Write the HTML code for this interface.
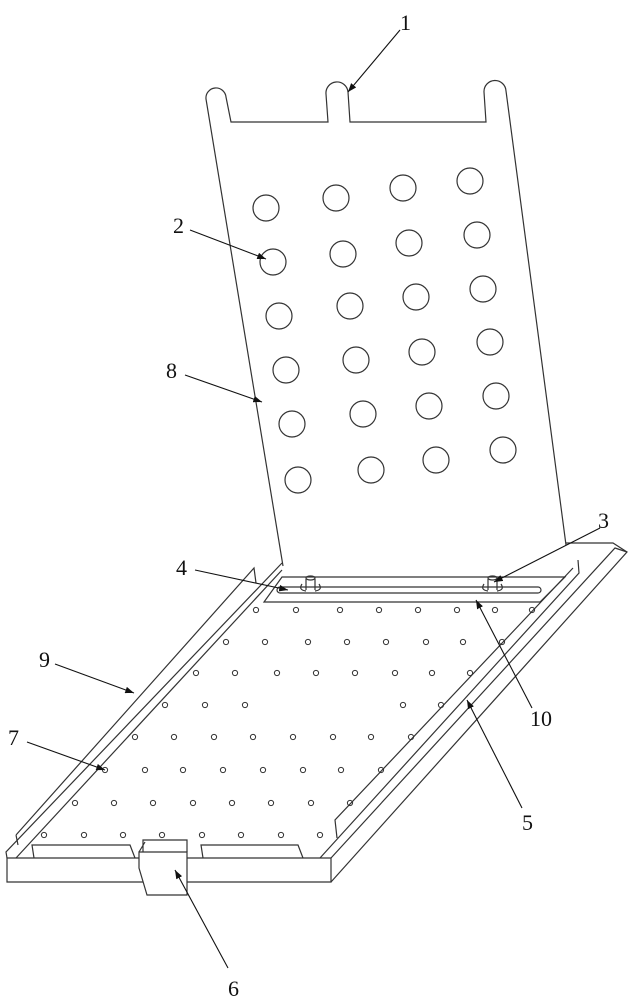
<!DOCTYPE html>
<html><head><meta charset="utf-8"><style>
html,body{margin:0;padding:0;background:#fff}
svg{display:block}
text{font-family:"Liberation Serif",serif;font-size:22px;fill:#111}
</style></head><body>
<svg width="632" height="1000" viewBox="0 0 632 1000" xmlns="http://www.w3.org/2000/svg">
<defs><marker id="a" markerWidth="8" markerHeight="6" refX="8" refY="3" orient="auto"><path d="M0,0L8,3L0,6z" fill="#111"/></marker></defs>
<g fill="none" stroke="#333" stroke-width="1.2">
<!-- board -->
<path d="M283,566 L206,99 A10,10 0 0 1 226,97 L231,122 L328,122 L326,94 A11,11 0 0 1 348,92 L350,122 L486,122 L484,92 A11,11 0 0 1 506,91 L566,545"/>
<g>
<circle cx="266" cy="208" r="13"/><circle cx="336" cy="198" r="13"/><circle cx="403" cy="188" r="13"/><circle cx="470" cy="181" r="13"/>
<circle cx="273" cy="262" r="13"/><circle cx="343" cy="254" r="13"/><circle cx="409" cy="243" r="13"/><circle cx="477" cy="235" r="13"/>
<circle cx="279" cy="316" r="13"/><circle cx="350" cy="306" r="13"/><circle cx="416" cy="297" r="13"/><circle cx="483" cy="289" r="13"/>
<circle cx="286" cy="370" r="13"/><circle cx="356" cy="360" r="13"/><circle cx="422" cy="352" r="13"/><circle cx="490" cy="342" r="13"/>
<circle cx="292" cy="424" r="13"/><circle cx="363" cy="414" r="13"/><circle cx="429" cy="406" r="13"/><circle cx="496" cy="396" r="13"/>
<circle cx="298" cy="480" r="13"/><circle cx="371" cy="470" r="13"/><circle cx="436" cy="460" r="13"/><circle cx="503" cy="450" r="13"/>
</g>
<!-- tray -->
<path d="M7,858 L331,858 L331,882 L7,882 Z"/>
<path d="M331,882 L627,552 L613,543 L566,543"/>
<path d="M331,858 L615,548 L627,552"/>
<path d="M7,858 L6,852 L282,563"/>
<path d="M16,858 L282,570"/>
<path d="M16,835 L18,845 M16,835 L254,568 L256,583"/>
<path d="M320,858 L579,573 L578,560 M337,838 L335,820 L573,568"/>
<!-- slot plate -->
<path d="M282,577 L565,577 L540,602 L264,602 Z"/>
<path d="M280,587 L538,587 A3,3 0 0 1 538,593 L280,593 A3,3 0 0 1 280,587 Z"/>
<!-- bolts -->
<path d="M306,579 L306,590 M315,579 L315,590"/><ellipse cx="310.5" cy="578" rx="4.5" ry="2"/>
<path d="M302,584 Q298,590 306,591 M319,584 Q323,590 315,591"/>
<path d="M488,579 L488,590 M497,579 L497,590"/><ellipse cx="492.5" cy="578" rx="4.5" ry="2"/>
<path d="M484,584 Q480,590 488,591 M501,584 Q505,590 497,591"/>
<!-- front gaps -->
<path d="M34,858 L32,845 L130,845 L135,858"/>
<path d="M203,858 L201,845 L298,845 L303,858"/>
<!-- clip -->
<path d="M139,852 L187,852 L187,895 L147,895 L139,868 Z" fill="#fff"/>
<path d="M143,852 L143,840 L187,840 L187,852 M139,852 L145,842"/>
<!-- dots -->
<g stroke-width="1">
<circle cx="256" cy="610" r="2.6"/><circle cx="296" cy="610" r="2.6"/><circle cx="340" cy="610" r="2.6"/><circle cx="379" cy="610" r="2.6"/><circle cx="418" cy="610" r="2.6"/><circle cx="457" cy="610" r="2.6"/><circle cx="495" cy="610" r="2.6"/><circle cx="532" cy="610" r="2.6"/>
<circle cx="226" cy="642" r="2.6"/><circle cx="265" cy="642" r="2.6"/><circle cx="308" cy="642" r="2.6"/><circle cx="347" cy="642" r="2.6"/><circle cx="386" cy="642" r="2.6"/><circle cx="426" cy="642" r="2.6"/><circle cx="463" cy="642" r="2.6"/><circle cx="502" cy="642" r="2.6"/>
<circle cx="196" cy="673" r="2.6"/><circle cx="235" cy="673" r="2.6"/><circle cx="277" cy="673" r="2.6"/><circle cx="316" cy="673" r="2.6"/><circle cx="355" cy="673" r="2.6"/><circle cx="395" cy="673" r="2.6"/><circle cx="432" cy="673" r="2.6"/><circle cx="470" cy="673" r="2.6"/>
<circle cx="165" cy="705" r="2.6"/><circle cx="205" cy="705" r="2.6"/><circle cx="245" cy="705" r="2.6"/><circle cx="403" cy="705" r="2.6"/><circle cx="441" cy="705" r="2.6"/>
<circle cx="135" cy="737" r="2.6"/><circle cx="174" cy="737" r="2.6"/><circle cx="214" cy="737" r="2.6"/><circle cx="253" cy="737" r="2.6"/><circle cx="293" cy="737" r="2.6"/><circle cx="333" cy="737" r="2.6"/><circle cx="371" cy="737" r="2.6"/><circle cx="411" cy="737" r="2.6"/>
<circle cx="105" cy="770" r="2.6"/><circle cx="145" cy="770" r="2.6"/><circle cx="183" cy="770" r="2.6"/><circle cx="223" cy="770" r="2.6"/><circle cx="263" cy="770" r="2.6"/><circle cx="303" cy="770" r="2.6"/><circle cx="341" cy="770" r="2.6"/><circle cx="381" cy="770" r="2.6"/>
<circle cx="75" cy="803" r="2.6"/><circle cx="114" cy="803" r="2.6"/><circle cx="153" cy="803" r="2.6"/><circle cx="193" cy="803" r="2.6"/><circle cx="232" cy="803" r="2.6"/><circle cx="271" cy="803" r="2.6"/><circle cx="311" cy="803" r="2.6"/><circle cx="350" cy="803" r="2.6"/>
<circle cx="44" cy="835" r="2.6"/><circle cx="84" cy="835" r="2.6"/><circle cx="123" cy="835" r="2.6"/><circle cx="162" cy="835" r="2.6"/><circle cx="202" cy="835" r="2.6"/><circle cx="241" cy="835" r="2.6"/><circle cx="281" cy="835" r="2.6"/><circle cx="320" cy="835" r="2.6"/>
</g>
</g>
<!-- leaders -->
<g stroke="#111" stroke-width="1.1" marker-end="url(#a)">
<line x1="400" y1="30" x2="348" y2="92"/>
<line x1="190" y1="230" x2="266" y2="259"/>
<line x1="185" y1="375" x2="262" y2="402"/>
<line x1="600" y1="528" x2="494" y2="582"/>
<line x1="195" y1="570" x2="288" y2="590"/>
<line x1="55" y1="664" x2="134" y2="693"/>
<line x1="27" y1="742" x2="105" y2="770"/>
<line x1="532" y1="708" x2="476" y2="600"/>
<line x1="522" y1="808" x2="467" y2="700"/>
<line x1="228" y1="968" x2="175" y2="870"/>
</g>
<text x="400" y="30">1</text>
<text x="173" y="233">2</text>
<text x="166" y="378">8</text>
<text x="598" y="528">3</text>
<text x="176" y="575">4</text>
<text x="39" y="667">9</text>
<text x="8" y="745">7</text>
<text x="530" y="726">10</text>
<text x="522" y="830">5</text>
<text x="228" y="996">6</text>
</svg>
</body></html>
